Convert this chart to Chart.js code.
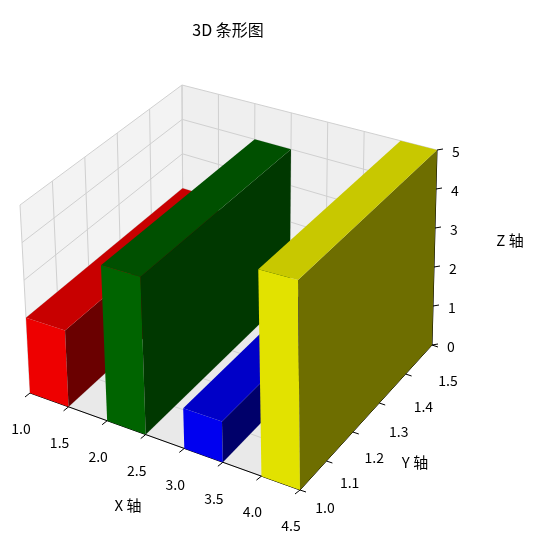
<!DOCTYPE html>
<html><head><meta charset="utf-8">
<script src="https://cdn.jsdelivr.net/npm/chart.js@4"></script>
<style>body{margin:0;background:#fff}</style>
</head><body>
<canvas id="c" width="549" height="553"></canvas>
<script>
// bar data
const barX = [1, 2, 3, 4];
const barY = [1, 1, 1, 1];
const barH = [2, 4, 1, 5];
const barDX = 0.5, barDY = 0.5;
const barColors = [['#ee0000', '#6a0000', '#c80000'], ['#006400', '#003800', '#005000'],
  ['#0000f0', '#00006a', '#0000c8'], ['#e2e200', '#6e6e00', '#c8c800']];
const xTicks = [1.0, 1.5, 2.0, 2.5, 3.0, 3.5, 4.0, 4.5];
const yTicks = [1.0, 1.1, 1.2, 1.3, 1.4, 1.5];
const zTicks = [0, 1, 2, 3, 4, 5];
const lim = { x: [1, 4.5], y: [1, 1.5], z: [0, 5] };
const FONT = '"Noto Sans CJK SC", sans-serif';

// screen position of the 8 box corners (view elev 30, azim -60, with perspective)
const corner = {
  '000': [30, 393], '100': [300, 490], '010': [183, 257], '110': [432, 345],
  '001': [20, 205], '101': [298, 280], '011': [182, 85], '111': [437, 150]
};
function proj(chart, x, y, z) {
  const u = (x - lim.x[0]) / (lim.x[1] - lim.x[0]);
  const v = (y - lim.y[0]) / (lim.y[1] - lim.y[0]);
  const w = (z - lim.z[0]) / (lim.z[1] - lim.z[0]);
  let px = 0, py = 0;
  for (const k in corner) {
    const f = (k[0] === '1' ? u : 1 - u) * (k[1] === '1' ? v : 1 - v) * (k[2] === '1' ? w : 1 - w);
    px += f * corner[k][0]; py += f * corner[k][1];
  }
  return [chart.scales.x.getPixelForValue(px), chart.scales.y.getPixelForValue(py)];
}
function poly(ctx, pts, fill) {
  ctx.beginPath();
  pts.forEach((p, i) => i ? ctx.lineTo(p[0], p[1]) : ctx.moveTo(p[0], p[1]));
  ctx.closePath();
  ctx.fillStyle = fill; ctx.fill();
}
function line(ctx, a, b, col, w) {
  ctx.beginPath(); ctx.moveTo(a[0], a[1]); ctx.lineTo(b[0], b[1]);
  ctx.strokeStyle = col; ctx.lineWidth = w; ctx.stroke();
}

const scene = {
  id: 'scene',
  afterDraw(chart) {
    const ctx = chart.ctx;
    const P = (x, y, z) => proj(chart, x, y, z);
    const [x0, x1] = lim.x, [y0, y1] = lim.y, [z0, z1] = lim.z;
    ctx.save();
    // panes
    poly(ctx, [P(x0, y0, z0), P(x0, y1, z0), P(x0, y1, z1), P(x0, y0, z1)], '#f3f3f3');
    poly(ctx, [P(x0, y1, z0), P(x1, y1, z0), P(x1, y1, z1), P(x0, y1, z1)], '#efefef');
    poly(ctx, [P(x0, y0, z0), P(x1, y0, z0), P(x1, y1, z0), P(x0, y1, z0)], '#e9e9e9');
    const g = '#d0d0d0';
    yTicks.forEach(t => { line(ctx, P(x0, t, z0), P(x0, t, z1), g, 1); line(ctx, P(x0, t, z0), P(x1, t, z0), g, 1); });
    zTicks.forEach(t => { line(ctx, P(x0, y0, t), P(x0, y1, t), g, 1); line(ctx, P(x0, y1, t), P(x1, y1, t), g, 1); });
    xTicks.forEach(t => { line(ctx, P(t, y1, z0), P(t, y1, z1), g, 1); line(ctx, P(t, y0, z0), P(t, y1, z0), g, 1); });
    // axes lines
    line(ctx, P(x0, y0, z0), P(x1, y0, z0), '#000', 1);
    line(ctx, P(x1, y0, z0), P(x1, y1, z0), '#000', 1);
    line(ctx, P(x1, y1, z0), P(x1, y1, z1), '#000', 1);
    // bars, far to near
    barX.map((v, i) => i).sort((a, b) => barX[a] - barX[b]).forEach(i => {
      const a = barX[i], b = barX[i] + barDX, c = barY[i], d = barY[i] + barDY, h = barH[i];
      const [front, side, top] = barColors[i];
      poly(ctx, [P(a, c, 0), P(b, c, 0), P(b, c, h), P(a, c, h)], front);
      poly(ctx, [P(b, c, 0), P(b, d, 0), P(b, d, h), P(b, c, h)], side);
      poly(ctx, [P(a, c, h), P(b, c, h), P(b, d, h), P(a, d, h)], top);
    });
    // ticks & labels
    ctx.fillStyle = '#000'; ctx.font = '14px ' + FONT;
    ctx.textAlign = 'center'; ctx.textBaseline = 'middle';
    xTicks.forEach(t => {
      const p = P(t, y0, z0);
      line(ctx, p, [p[0] - 5, p[1] + 4], '#000', 1);
      ctx.fillText(t.toFixed(1), p[0] - 9, p[1] + 36);
    });
    yTicks.forEach((t, i) => {
      const p = P(x1, t, z0), f = i / (yTicks.length - 1);
      line(ctx, p, [p[0] + 6, p[1] + 2], '#000', 1);
      ctx.fillText(t.toFixed(1), p[0] + 25 - 9 * f, p[1] + 18 + 18 * f);
    });
    zTicks.forEach(t => {
      const p = P(x1, y1, t);
      line(ctx, p, [p[0] + 6, p[1] - 1], '#000', 1);
      ctx.fillText(String(t), p[0] + 19, p[1] + 2);
    });
    ctx.font = '15px ' + FONT;
    ctx.fillText('X 轴', 128, 505);
    ctx.fillText('Y 轴', 415, 462);
    ctx.fillText('Z 轴', 510, 240);
    ctx.font = '16px ' + FONT;
    ctx.fillText('3D 条形图', 228, 30);
    ctx.restore();
  }
};

new Chart(document.getElementById('c'), {
  type: 'scatter',
  data: { datasets: [{ data: [] }] },
  options: {
    responsive: false, animation: false,
    layout: { padding: 0 },
    plugins: { legend: { display: false }, tooltip: { enabled: false } },
    scales: {
      x: { display: false, min: 0, max: 549 },
      y: { display: false, min: 0, max: 553, reverse: true }
    }
  },
  plugins: [scene]
});
</script>
</body></html>
